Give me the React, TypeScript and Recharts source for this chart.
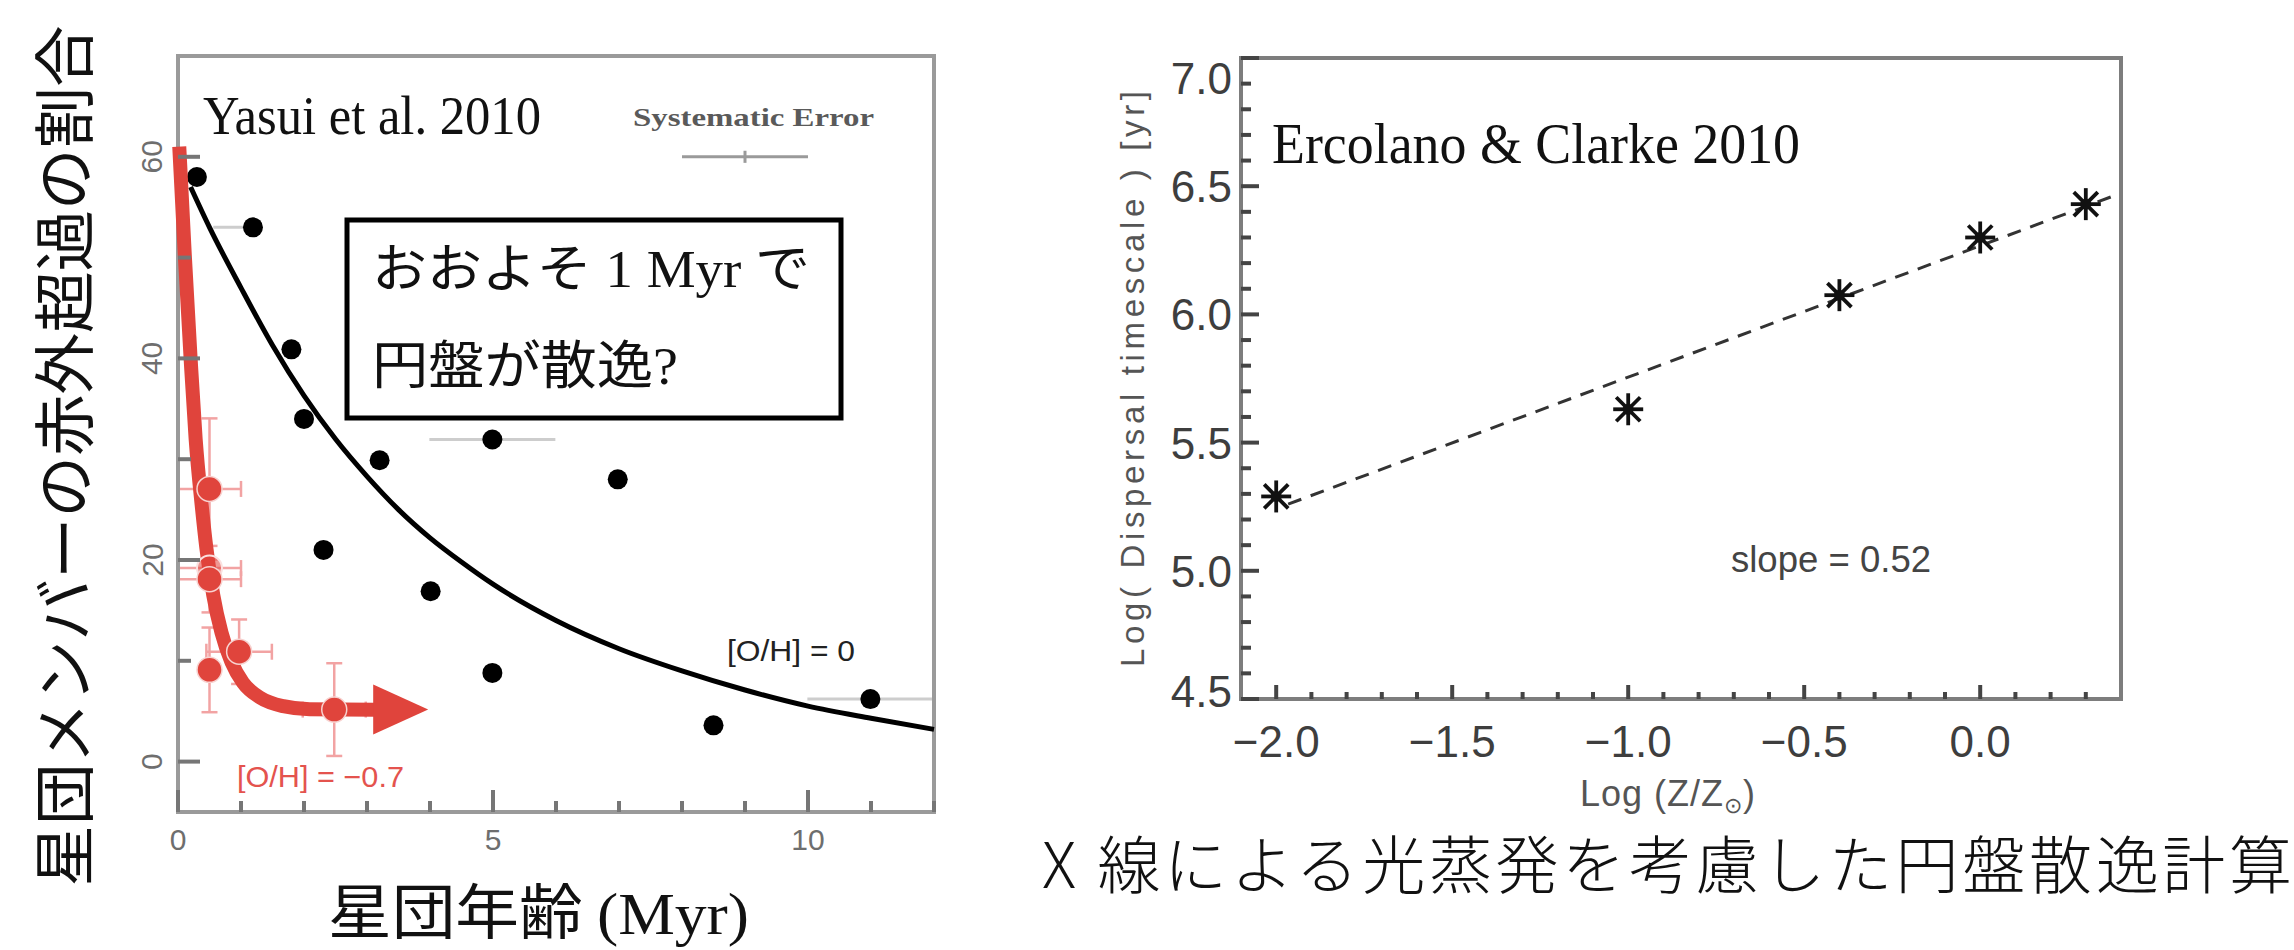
import React from 'react';
import { ComposedChart, Scatter, XAxis, YAxis, ErrorBar } from 'recharts';

// ---------------- Left panel: Yasui et al. 2010 ----------------
const clusterAge = [0.3, 1.19, 1.8, 2.0, 2.31, 3.2, 4.01, 4.99, 4.99, 6.98, 8.5, 10.99];
const diskFraction = [58.0, 53.0, 40.9, 34.0, 21.0, 29.9, 16.9, 31.95, 8.8, 28.0, 3.6, 6.2];
const clusterAgeErr = [0, [0.63, 0], 0, 0, 0, 0, 0, [1, 1], 0, 0, 0, [1, 1]];

const solarCurveAge = [0.2, 0.5, 1, 1.5, 2, 2.5, 3, 3.5, 4, 4.5, 5, 6, 7, 8, 9, 10, 11, 12];
const solarCurveFrac = [57, 53, 47, 41.3, 36.3, 32, 28.3, 25, 22.2, 19.8, 17.6, 14, 11.2, 9, 7.1, 5.5, 4.3, 3.2];

const lowZAge = [0.5, 0.5, 0.97, 0.5, 2.48];
const lowZFrac = [27.05, 18.1, 10.9, 9.1, 5.16];
const lowZAgeErr = [0.5, 0.5, 0.52, 0, 0.5];
const lowZFracErr = [7, 3.3, 3.2, 4.2, 4.6];
const lowZGhostAge = [0.5];
const lowZGhostFrac = [19.2];
const lowZGhostAgeErr = [0.5];

const lowZCurveAge = [0.02, 0.11, 0.2, 0.28, 0.375, 0.45, 0.56, 0.69, 0.85, 1.03, 1.3, 1.67, 2.09, 3.13];
const lowZCurveFrac = [61, 50, 40, 32, 25.5, 21.2, 16.5, 12.8, 9.85, 7.85, 6.36, 5.5, 5.2, 5.15];
const arrowAge = [3.13];
const arrowFrac = [5.16];

const sysErrAge = [9.0];
const sysErrFrac = [60];
const sysErrAgeWidth = [1.0];
const sysErrFracWidth = [0.6];

const leftXTicks = [0, 1, 2, 3, 4, 5, 6, 7, 8, 9, 10, 11, 12];
const leftXLabels = [0, 5, 10];
const leftYTicks = [0, 10, 20, 30, 40, 50, 60];
const leftYLabels = [0, 20, 40, 60];

// ---------------- Right panel: Ercolano & Clarke 2010 ----------------
const logZ = [-2.0, -1.0, -0.4, 0.0, 0.3];
const logTdisp = [5.29, 5.63, 6.075, 6.3, 6.43];
const fitLogZ = [-1.966, 0.375];
const fitLogT = [5.26, 6.46];

const rightXTicks = [-2.0, -1.9, -1.8, -1.7, -1.6, -1.5, -1.4, -1.3, -1.2, -1.1, -1.0, -0.9, -0.8, -0.7, -0.6, -0.5, -0.4, -0.3, -0.2, -0.1, 0.0, 0.1, 0.2, 0.3];
const rightXMajor = [-2.0, -1.5, -1.0, -0.5, 0.0];
const rightXLabels = ['\u22122.0', '\u22121.5', '\u22121.0', '\u22120.5', '0.0'];
const rightYTicks = [4.5, 4.6, 4.7, 4.8, 4.9, 5.0, 5.1, 5.2, 5.3, 5.4, 5.5, 5.6, 5.7, 5.8, 5.9, 6.0, 6.1, 6.2, 6.3, 6.4, 6.5, 6.6, 6.7, 6.8, 6.9, 7.0];
const rightYMajor = [4.5, 5.0, 5.5, 6.0, 6.5, 7.0];
const rightYLabels = ['4.5', '5.0', '5.5', '6.0', '6.5', '7.0'];

// ---------------- styling ----------------
const SANS = "'Liberation Sans', Arial, Helvetica, sans-serif";
const SERIF = "'Liberation Serif', 'Times New Roman', serif";
const CJK = "'Noto Sans CJK JP', 'Noto Sans', sans-serif";
const RED = '#e0443c';
const RED_ERR = '#f2a3a3';
const LEFT_FRAME = '#9a9a9a';
const LEFT_TICK = '#767676';
const RIGHT_FRAME = '#7d7d7d';
const RIGHT_TICK = '#444';
const TW = 4;

const idx = (v: number, arr: number[]) => arr.findIndex((b) => Math.abs(v - b) < 1e-6);

// data tables
const blackPts = clusterAge.map((x, i) => ({ x, y: diskFraction[i] }));
const blackErrPts = clusterAge
  .map((x, i) => ({ x, y: diskFraction[i], ex: clusterAgeErr[i] }))
  .filter((d) => Array.isArray(d.ex));
const solarCurve = solarCurveAge.map((x, i) => ({ x, y: solarCurveFrac[i] }));
const lowZPts = lowZAge.map((x, i) => ({ x, y: lowZFrac[i], ex: lowZAgeErr[i], ey: lowZFracErr[i] }));
const lowZGhost = lowZGhostAge.map((x, i) => ({ x, y: lowZGhostFrac[i], ex: lowZGhostAgeErr[i] }));
const lowZCurve = lowZCurveAge.map((x, i) => ({ x, y: lowZCurveFrac[i] }));
const arrowPts = arrowAge.map((x, i) => ({ x, y: arrowFrac[i] }));
const sysPts = sysErrAge.map((x, i) => ({ x, y: sysErrFrac[i], ex: sysErrAgeWidth[i], ey: sysErrFracWidth[i] }));
const ecPts = logZ.map((x, i) => ({ x, y: logTdisp[i] }));
const fitPts = fitLogZ.map((x, i) => ({ x, y: fitLogT[i] }));

const Empty = () => <g />;
const BlackDot = (p: any) => <circle cx={p.cx} cy={p.cy} r={10} fill="#000" />;
const RedDot = (p: any) => <circle cx={p.cx} cy={p.cy} r={12.5} fill={RED} stroke="#f7d2d0" strokeWidth={1.5} />;
const GhostDot = (p: any) => <circle cx={p.cx} cy={p.cy} r={12.5} fill={RED} fillOpacity={0.55} stroke="#fbe0df" strokeWidth={2} />;
const ArrowHead = (p: any) => (
  <polygon points={`${p.cx - 2},${p.cy - 25} ${p.cx + 53},${p.cy} ${p.cx - 2},${p.cy + 25}`} fill={RED} />
);
const Asterisk = (p: any) => {
  const { cx, cy } = p;
  const a = 16;
  const d = 12;
  return (
    <g stroke="#111" strokeWidth={3.8}>
      <line x1={cx} y1={cy - a} x2={cx} y2={cy + a} />
      <line x1={cx - a + 1} y1={cy} x2={cx + a - 1} y2={cy} />
      <line x1={cx - d} y1={cy - d} x2={cx + d} y2={cy + d} />
      <line x1={cx - d} y1={cy + d} x2={cx + d} y2={cy - d} />
      <circle cx={cx} cy={cy} r={5.5} fill="#111" stroke="none" />
    </g>
  );
};

// ---- tick renderers (left panel) ----
const LeftBottomTick = (p: any) => {
  const v = p.payload.value;
  const i = idx(v, leftXLabels);
  const major = i >= 0;
  return (
    <g>
      <line x1={p.x} x2={p.x} y1={p.y} y2={p.y - (major ? 22 : 11)} stroke={LEFT_TICK} strokeWidth={TW} />
      {major && (
        <text x={p.x} y={p.y + 38} textAnchor="middle" fontSize={30} fill="#6e6e6e" fontFamily={SANS}>
          {String(leftXLabels[i])}
        </text>
      )}
    </g>
  );
};
const LeftTopTick = (p: any) => {
  const major = idx(p.payload.value, leftXLabels) >= 0;
  return <line x1={p.x} x2={p.x} y1={p.y} y2={p.y + (major ? 24 : 12)} stroke={LEFT_TICK} strokeWidth={TW} />;
};
const LeftLeftTick = (p: any) => {
  const v = p.payload.value;
  const i = idx(v, leftYLabels);
  const major = i >= 0;
  const lx = p.x - 26;
  return (
    <g>
      <line x1={p.x} x2={p.x + (major ? 22 : 13)} y1={p.y} y2={p.y} stroke={LEFT_TICK} strokeWidth={TW} />
      {major && (
        <text
          x={lx}
          y={p.y}
          transform={`rotate(-90 ${lx} ${p.y})`}
          textAnchor="middle"
          dominantBaseline="central"
          fontSize={30}
          fill="#6e6e6e"
          fontFamily={SANS}
        >
          {String(leftYLabels[i])}
        </text>
      )}
    </g>
  );
};
const LeftRightTick = (p: any) => (
  <line x1={p.x} x2={p.x - 22} y1={p.y} y2={p.y} stroke={LEFT_TICK} strokeWidth={TW} />
);

// ---- tick renderers (right panel) ----
const RightBottomTick = (p: any) => {
  const i = idx(p.payload.value, rightXMajor);
  const major = i >= 0;
  return (
    <g>
      <line x1={p.x} x2={p.x} y1={p.y} y2={p.y - (major ? 14 : 7)} stroke={RIGHT_TICK} strokeWidth={TW} />
      {major && (
        <text x={p.x} y={p.y + 58} textAnchor="middle" fontSize={44} fill="#3e3e3e" fontFamily={SANS}>
          {rightXLabels[i]}
        </text>
      )}
    </g>
  );
};
const RightTopTick = (p: any) => {
  const major = idx(p.payload.value, rightXMajor) >= 0;
  return <line x1={p.x} x2={p.x} y1={p.y} y2={p.y + (major ? 14 : 7)} stroke={RIGHT_TICK} strokeWidth={TW} />;
};
const RightLeftTick = (p: any) => {
  const v = p.payload.value;
  const i = idx(v, rightYMajor);
  const major = i >= 0;
  const shift = i === rightYMajor.length - 1 ? 20 : i === 0 ? -8 : 0;
  return (
    <g>
      <line x1={p.x} x2={p.x + (major ? 18 : 10)} y1={p.y} y2={p.y} stroke={RIGHT_TICK} strokeWidth={TW} />
      {major && (
        <text x={p.x - 9} y={p.y + 16 + shift} textAnchor="end" fontSize={44} fill="#3e3e3e" fontFamily={SANS}>
          {rightYLabels[i]}
        </text>
      )}
    </g>
  );
};
const RightRightTick = (p: any) => {
  const major = idx(p.payload.value, rightYMajor) >= 0;
  return <line x1={p.x} x2={p.x - (major ? 18 : 10)} y1={p.y} y2={p.y} stroke={RIGHT_TICK} strokeWidth={TW} />;
};

const leftFrame = { stroke: LEFT_FRAME, strokeWidth: 4, strokeLinecap: 'square' as const };
const rightFrame = { stroke: RIGHT_FRAME, strokeWidth: 4, strokeLinecap: 'square' as const };

export default function App() {
  return (
    <div style={{ position: 'absolute', left: 0, top: 0, width: 2294, height: 950, background: '#fff', overflow: 'hidden' }}>
      <div style={{ position: 'absolute', left: 0, top: 0 }}>
        <ComposedChart width={1000} height={950} margin={{ top: 55, right: 65, bottom: 137, left: 177 }}>
          <XAxis type="number" dataKey="x" domain={[0, 12]} ticks={leftXTicks} interval={0} height={1}
            tickSize={0} tickMargin={0} tickLine={false} axisLine={leftFrame} tick={<LeftBottomTick />} />
          <XAxis xAxisId="top" orientation="top" type="number" dataKey="x" domain={[0, 12]} ticks={leftXTicks} interval={0} height={1}
            tickSize={0} tickMargin={0} tickLine={false} axisLine={leftFrame} tick={<LeftTopTick />} />
          <YAxis type="number" dataKey="y" domain={[-5, 70]} ticks={leftYTicks} interval={0} width={1}
            tickSize={0} tickMargin={0} tickLine={false} axisLine={leftFrame} tick={<LeftLeftTick />} />
          <YAxis yAxisId="right" orientation="right" type="number" dataKey="y" domain={[-5, 70]} ticks={leftYTicks} interval={0} width={1}
            tickSize={0} tickMargin={0} tickLine={false} axisLine={leftFrame} tick={<LeftRightTick />} />

          <Scatter data={sysPts} shape={Empty} isAnimationActive={false}>
            <ErrorBar dataKey="ex" direction="x" width={0} stroke="#9a9a9a" strokeWidth={3} />
            <ErrorBar dataKey="ey" direction="y" width={0} stroke="#9a9a9a" strokeWidth={3} />
          </Scatter>
          <Scatter data={blackErrPts} shape={Empty} isAnimationActive={false}>
            <ErrorBar dataKey="ex" direction="x" width={0} stroke="#cdcdcd" strokeWidth={3} />
          </Scatter>
          <Scatter data={solarCurve} shape={Empty} line={{ stroke: '#000', strokeWidth: 5 }} lineJointType="monotoneX" isAnimationActive={false} />
          <Scatter data={blackPts} shape={BlackDot} isAnimationActive={false} />

          <Scatter data={lowZCurve} shape={Empty} line={{ stroke: RED, strokeWidth: 14 }} lineJointType="monotoneX" isAnimationActive={false} />
          <Scatter data={arrowPts} shape={ArrowHead} isAnimationActive={false} />
          <Scatter data={lowZGhost} shape={GhostDot} isAnimationActive={false}>
            <ErrorBar dataKey="ex" direction="x" width={8} stroke={RED_ERR} strokeWidth={2.5} />
          </Scatter>
          <Scatter data={lowZPts} shape={RedDot} isAnimationActive={false}>
            <ErrorBar dataKey="ex" direction="x" width={8} stroke={RED_ERR} strokeWidth={2.5} />
            <ErrorBar dataKey="ey" direction="y" width={8} stroke={RED_ERR} strokeWidth={2.5} />
          </Scatter>
        </ComposedChart>
      </div>

      <div style={{ position: 'absolute', left: 1050, top: 0 }}>
        <ComposedChart width={1244} height={950} margin={{ top: 57, right: 172, bottom: 250, left: 190 }}>
          <XAxis type="number" dataKey="x" domain={[-2.1, 0.4]} ticks={rightXTicks} interval={0} height={1}
            tickSize={0} tickMargin={0} tickLine={false} axisLine={rightFrame} tick={<RightBottomTick />} />
          <XAxis xAxisId="top" orientation="top" type="number" dataKey="x" domain={[-2.1, 0.4]} ticks={rightXTicks} interval={0} height={1}
            tickSize={0} tickMargin={0} tickLine={false} axisLine={rightFrame} tick={<RightTopTick />} />
          <YAxis type="number" dataKey="y" domain={[4.5, 7.0]} ticks={rightYTicks} interval={0} width={1}
            tickSize={0} tickMargin={0} tickLine={false} axisLine={rightFrame} tick={<RightLeftTick />} />
          <YAxis yAxisId="right" orientation="right" type="number" dataKey="y" domain={[4.5, 7.0]} ticks={rightYTicks} interval={0} width={1}
            tickSize={0} tickMargin={0} tickLine={false} axisLine={rightFrame} tick={<RightRightTick />} />

          <Scatter data={fitPts} shape={Empty} line={{ stroke: '#333', strokeWidth: 3, strokeDasharray: '14 10' }} isAnimationActive={false} />
          <Scatter data={ecPts} shape={Asterisk} isAnimationActive={false} />
        </ComposedChart>
      </div>

      <svg width={2294} height={950} style={{ position: 'absolute', left: 0, top: 0, pointerEvents: 'none' }}>
        {/* left panel annotations */}
        <text x={88} y={456} transform="rotate(-90 88 456)" textAnchor="middle" fontSize={62} fontFamily={CJK}
          fill="#111" textLength={861} lengthAdjust="spacingAndGlyphs">星団メンバーの赤外超過の割合</text>
        <text x={328} y={934} fontSize={60} fill="#111" textLength={421} lengthAdjust="spacingAndGlyphs">
          <tspan fontFamily={CJK}>星団年齢 </tspan>
          <tspan fontFamily={SERIF}>(Myr)</tspan>
        </text>
        <text x={203} y={134} fontSize={54} fontFamily={SERIF} fill="#111" textLength={338} lengthAdjust="spacingAndGlyphs">Yasui et al. 2010</text>
        <text x={633} y={126} fontSize={25} fontFamily={SERIF} fontWeight="bold" fill="#5a5a5a" textLength={241} lengthAdjust="spacingAndGlyphs">Systematic Error</text>
        <rect x={347} y={220} width={494} height={198} fill="#fff" stroke="#000" strokeWidth={5} />
        <text x={372} y={287} fontSize={52} fill="#111" textLength={438} lengthAdjust="spacingAndGlyphs">
          <tspan fontFamily={CJK}>おおよそ</tspan>
          <tspan fontFamily={SERIF}> 1 Myr </tspan>
          <tspan fontFamily={CJK}>で</tspan>
        </text>
        <text x={372} y={384} fontSize={52} fill="#111" textLength={306} lengthAdjust="spacingAndGlyphs">
          <tspan fontFamily={CJK}>円盤が散逸</tspan>
          <tspan fontFamily={SERIF}>?</tspan>
        </text>
        <text x={727} y={661} fontSize={29} fontFamily={SANS} fill="#222" textLength={128} lengthAdjust="spacingAndGlyphs">[O/H] = 0</text>
        <text x={237} y={787} fontSize={29} fontFamily={SANS} fill="#e4534e" textLength={167} lengthAdjust="spacingAndGlyphs">[O/H] = {'\u2212'}0.7</text>

        {/* right panel annotations */}
        <text x={1272} y={163} fontSize={56} fontFamily={SERIF} fill="#111" textLength={528} lengthAdjust="spacingAndGlyphs">Ercolano &amp; Clarke 2010</text>
        <text x={1731} y={572} fontSize={36} fontFamily={SANS} fill="#444" textLength={200} lengthAdjust="spacingAndGlyphs">slope = 0.52</text>
        <text x={1144} y={379} transform="rotate(-90 1144 379)" textAnchor="middle" fontSize={33} fontFamily={SANS}
          fill="#555" textLength={576} lengthAdjust="spacing">Log( Dispersal timescale ) [yr]</text>
        <text x={1580} y={806} fontSize={36} fontFamily={SANS} fill="#555" letterSpacing={1}>
          Log (Z/Z<tspan fontSize={22} dy={7}>{'\u2299'}</tspan><tspan dy={-7}>)</tspan>
        </text>

        {/* caption */}
        <text x={1042} y={888} fontSize={63} fontFamily={CJK} fontWeight={300} fill="#111" textLength={1250} lengthAdjust="spacing">
          X 線による光蒸発を考慮した円盤散逸計算
        </text>
      </svg>
    </div>
  );
}
